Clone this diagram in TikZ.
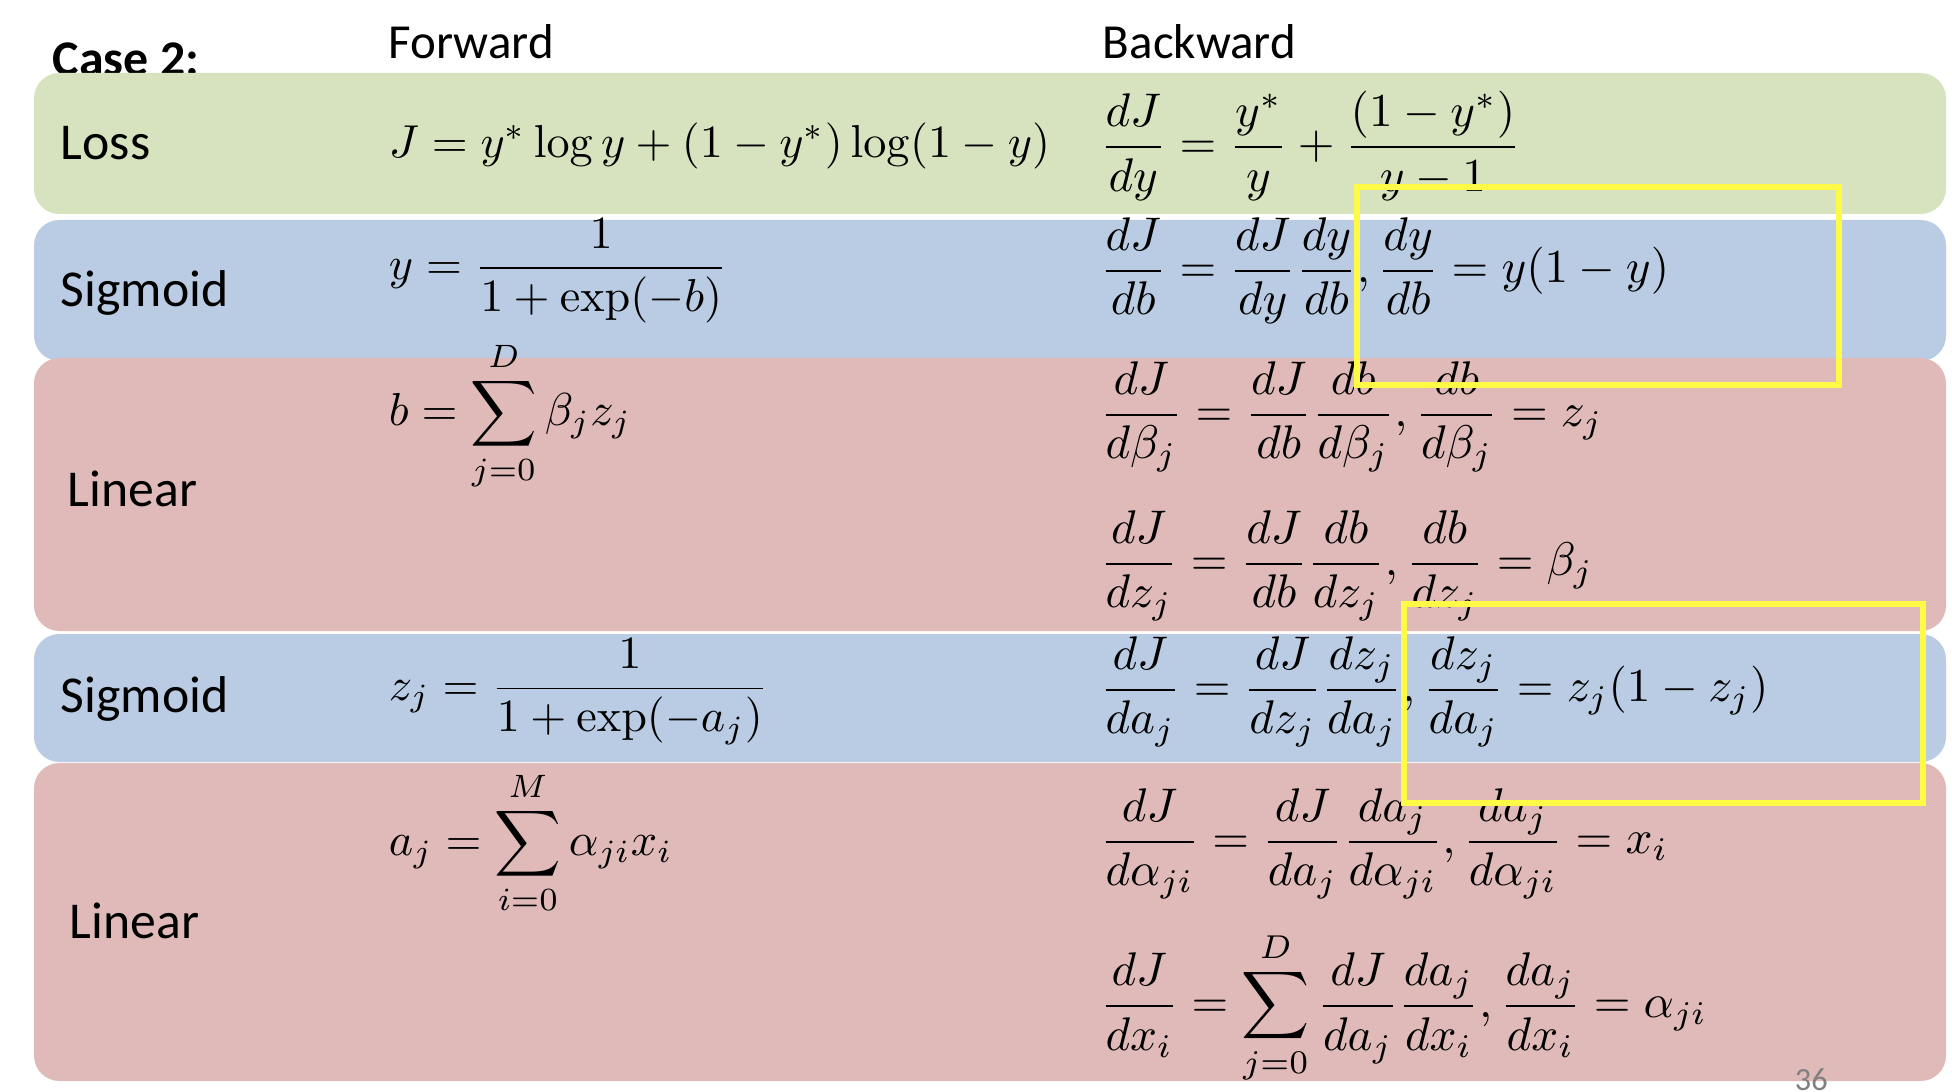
\documentclass[tikz,border=0pt]{standalone}
\usepackage{amsmath}
\usepackage[no-math]{fontspec}
\newfontfamily\labelfont{Carlito}
\definecolor{lossgreen}{RGB}{215,227,190}
\definecolor{sigblue}{RGB}{186,204,227}
\definecolor{linred}{RGB}{223,186,185}
\definecolor{boxyellow}{RGB}{255,250,70}
\newcommand{\deq}[1]{\scalebox{1.022}{$\displaystyle #1$}}

\begin{document}
\begin{tikzpicture}[x=0.2165pt, y=-0.2165pt]
    \tikzstyle{band} = [rounded corners=5.5pt]
    \tikzstyle{layer} = [anchor=west, inner sep=0pt, font=\labelfont\fontsize{11.2}{13}\selectfont]
    \tikzstyle{head} = [anchor=west, inner sep=0pt, font=\labelfont\fontsize{10.6}{13}\selectfont]
    \tikzstyle{eqn} = [anchor=west, inner sep=0pt]
    \tikzstyle{hilite} = [draw=boxyellow, line width=1.3pt]
    \fill[white] (0,0) rectangle (1952,1092);
    \useasboundingbox (0,0) rectangle (1952,1092);
    % headings
    \node (case) [anchor=base west, inner sep=0pt, font=\labelfont\fontsize{10.8}{13}\selectfont\bfseries] at (52,76) {Case 2:};
    \node (fwd) [head] at (388,42) {Forward};
    \node (bwd) [head] at (1102,42) {Backward};
    % layer bands
    \fill[band, lossgreen] (34,73) rectangle (1946,214);
    \fill[band, sigblue] (34,220) rectangle (1946,361);
    \fill[band, linred] (34,358) rectangle (1946,631);
    \fill[band, sigblue] (34,634) rectangle (1946,762);
    \fill[band, linred] (34,763) rectangle (1946,1081);
    % layer names
    \node (loss) [layer] at (60,143) {Loss};
    \node (sig1) [layer] at (60,293) {Sigmoid};
    \node (lin1) [layer] at (67,489) {Linear};
    \node (sig2) [layer] at (60,699) {Sigmoid};
    \node (lin2) [layer] at (69,921) {Linear};
    % forward
    \node (f1) [eqn] at (388,146) {$J = y^* \log y + (1-y^*)\log(1-y)$};
    \node (f2) [eqn] at (388,271) {$\displaystyle y = \frac{1}{1+\exp(-b)}$};
    \node (f3) [eqn] at (388,416) {$\displaystyle b = \sum_{j=0}^{D} \beta_j z_j$};
    \node (f4) [eqn] at (388,692) {$\displaystyle z_j = \frac{1}{1+\exp(-a_j)}$};
    \node (f5) [eqn] at (388,843) {$\displaystyle a_j = \sum_{i=0}^{M} \alpha_{ji} x_i$};
    % backward
    \node (b1) [eqn] at (1099,146) {\deq{\frac{dJ}{dy} = \frac{y^*}{y} + \frac{(1-y^*)}{y-1}}};
    \node (b2) [eqn] at (1099,271) {\deq{\frac{dJ}{db} = \frac{dJ}{dy}\frac{dy}{db}, \frac{dy}{db} = y(1-y)}};
    \node (b3) [eqn] at (1099,417) {\deq{\frac{dJ}{d\beta_j} = \frac{dJ}{db}\frac{db}{d\beta_j}, \frac{db}{d\beta_j} = z_j}};
    \node (b4) [eqn] at (1099,566) {\deq{\frac{dJ}{dz_j} = \frac{dJ}{db}\frac{db}{dz_j}, \frac{db}{dz_j} = \beta_j}};
    \node (b5) [eqn] at (1099,692) {\deq{\frac{dJ}{da_j} = \frac{dJ}{dz_j}\frac{dz_j}{da_j}, \frac{dz_j}{da_j} = z_j(1-z_j)}};
    \node (b6) [eqn] at (1099,844) {\deq{\frac{dJ}{d\alpha_{ji}} = \frac{dJ}{da_j}\frac{da_j}{d\alpha_{ji}}, \frac{da_j}{d\alpha_{ji}} = x_i}};
    \node (b7) [eqn] at (1099,1008) {\deq{\frac{dJ}{dx_i} = \sum_{j=0}^{D}\frac{dJ}{da_j}\frac{da_j}{dx_i}, \frac{da_j}{dx_i} = \alpha_{ji}}};
    % highlight boxes
    \draw[hilite] (1357,187) rectangle (1839,385);
    \draw[hilite] (1404,604) rectangle (1923,803);
    % page number
    \node (page) [anchor=north west, inner sep=0pt, text=gray, font=\labelfont\fontsize{7}{8}\selectfont] at (1794,1068) {36};
\end{tikzpicture}
\end{document}
